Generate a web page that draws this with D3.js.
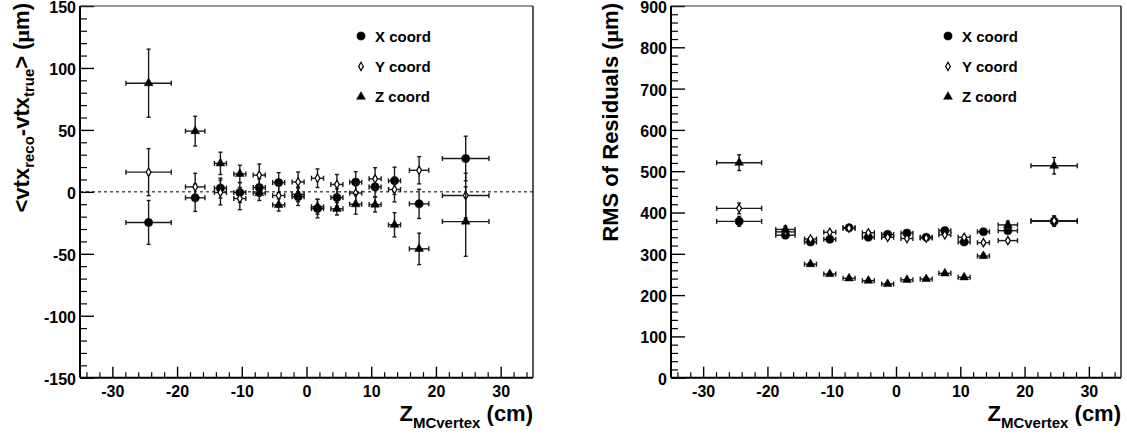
<!DOCTYPE html>
<html><head><meta charset="utf-8">
<script src="https://cdn.jsdelivr.net/npm/d3@7"></script>
<style>html,body{margin:0;padding:0;background:#fff;}svg{display:block;}</style>
</head><body>
<svg id="c" width="1127" height="434"></svg>
<script>
// ---- data ----
const zCenters = [-24.4, -17.2, -13.3, -10.3, -7.3, -4.3, -1.3, 1.7, 4.7, 7.6, 10.6, 13.6, 17.4, 24.6];
const zHalf    = [3.5, 1.5, 0.93, 0.93, 0.93, 0.93, 0.93, 0.93, 0.93, 0.93, 0.93, 0.93, 1.5, 3.6];

const meanX    = [-24.7, -4.8, 3, -0.5, 3.5, 7.5, -4, -13.5, -4.6, 7.8, 4, 8.9, -9.7, 26.9];
const meanXErr = [17.7, 11, 8, 8, 7, 8, 7, 7.5, 7, 8.5, 8, 11, 11.8, 18];
const meanY    = [15.9, 4, -0.5, -5.4, 13.5, -3, 8, 11, 6, -1, 10.5, 1.9, 17.4, -3];
const meanYErr = [19, 11, 10, 9, 9, 9, 8, 7.5, 8, 9, 9, 10, 11, 18];
const meanZ    = [87.7, 49, 23, 14.5, -1, -10.5, -2, -12, -13.7, -10, -10.3, -26.6, -46, -24];
const meanZErr = [27.5, 12, 9, 7, 6, 5, 6, 6, 5, 8, 6, 9.8, 12.7, 28];

const rmsX    = [378.5, 345, 328.6, 335, 363, 340, 347, 350, 340, 356, 328.6, 353.5, 356, 378.6];
const rmsXErr = [12, 5, 4, 4, 4, 4, 4, 4, 4, 4, 4, 4, 6, 12];
const rmsY    = [410, 353, 336, 352, 362, 351, 340, 337, 338, 346, 340, 327, 332, 380];
const rmsYErr = [13, 5, 4, 4, 4, 4, 4, 4, 4, 4, 4, 4, 5, 12];
const rmsZ    = [520.6, 359, 275, 251, 240.6, 235, 227, 237, 239, 252.7, 243, 294.7, 370, 513.3];
const rmsZErr = [19, 8, 4, 4, 3, 3, 3, 3, 3, 4, 4, 5, 9, 20];

const seriesNames = ["X coord", "Y coord", "Z coord"];
const xTicks = [-30, -20, -10, 0, 10, 20, 30];
const leftYTicks = [-150, -100, -50, 0, 50, 100, 150];
const rightYTicks = [0, 100, 200, 300, 400, 500, 600, 700, 800, 900];

// ---- drawing ----
const FONT = "'Liberation Sans', Arial, Helvetica, sans-serif";
const svg = d3.select("#c");
const fmt = d => String(d);

function drawPanel(o) {
  const g = svg.append("g");
  const x = d3.scaleLinear().domain([-35, 35]).range([o.x0, o.x1]);
  const y = d3.scaleLinear().domain(o.yDomain).range([o.y1, o.y0]);

  // minor ticks
  const xMinor = d3.range(-34, 35, 2).filter(v => v % 10 !== 0);
  g.append("g").attr("transform", `translate(0,${o.y1})`)
    .call(d3.axisBottom(x).tickValues(xMinor).tickSize(-5.5).tickFormat(""))
    .call(a => a.select(".domain").remove())
    .selectAll("line").attr("stroke", "#000").attr("stroke-width", 1.2);
  const yMinor = d3.range(o.yDomain[0], o.yDomain[1] + 0.001, o.yMinor).filter(v => Math.abs(v % o.yMajor) > 1e-6);
  g.append("g").attr("transform", `translate(${o.x0},0)`)
    .call(d3.axisLeft(y).tickValues(yMinor).tickSize(-7).tickFormat(""))
    .call(a => a.select(".domain").remove())
    .selectAll("line").attr("stroke", "#000").attr("stroke-width", 1.2);

  // major ticks + labels
  const ax = g.append("g").attr("transform", `translate(0,${o.y1})`)
    .call(d3.axisBottom(x).tickValues(xTicks).tickSize(-11).tickPadding(8).tickFormat(fmt));
  ax.select(".domain").remove();
  ax.selectAll("line").attr("stroke", "#000").attr("stroke-width", 1.4);
  ax.selectAll("text").attr("font-family", FONT).attr("font-weight", "bold").attr("font-size", 16).attr("fill", "#000");

  const ay = g.append("g").attr("transform", `translate(${o.x0},0)`)
    .call(d3.axisLeft(y).tickValues(o.yTicks).tickSize(-14).tickPadding(4).tickFormat(fmt));
  ay.select(".domain").remove();
  ay.selectAll("line").attr("stroke", "#000").attr("stroke-width", 1.4);
  ay.selectAll("text").attr("font-family", FONT).attr("font-weight", "bold").attr("font-size", 16)
    .attr("fill", "#000").attr("dy", "0.4em");

  // frame
  g.append("line").attr("x1", o.x0).attr("x2", o.x1).attr("y1", o.y0).attr("y2", o.y0).attr("stroke", "#333").attr("stroke-width", 1.2);
  g.append("line").attr("x1", o.x1).attr("x2", o.x1).attr("y1", o.y0).attr("y2", o.y1).attr("stroke", "#222").attr("stroke-width", 1.5);
  g.append("line").attr("x1", o.x0).attr("x2", o.x0).attr("y1", o.y0).attr("y2", o.y1).attr("stroke", "#000").attr("stroke-width", 2);
  g.append("line").attr("x1", o.x0).attr("x2", o.x1).attr("y1", o.y1).attr("y2", o.y1).attr("stroke", "#000").attr("stroke-width", 2);

  if (o.zeroLine) {
    g.append("line").attr("x1", o.x0).attr("x2", o.x1).attr("y1", y(0)).attr("y2", y(0))
      .attr("stroke", "#000").attr("stroke-width", 1).attr("stroke-dasharray", "3,3");
  }

  const symbols = [
    d3.symbol().type(d3.symbolCircle).size(52),
    d3.symbol().type(d3.symbolDiamond).size(20),
    d3.symbol().type(d3.symbolTriangle).size(34)
  ];
  const fills = ["#000", "#fff", "#000"];

  o.series.forEach((s, si) => {
    const pts = zCenters.map((zc, i) => ({ x: zc, hx: zHalf[i], v: s.vals[i], e: s.errs[i] }));
    const eg = g.append("g").attr("stroke", "#1a1a1a").attr("stroke-width", 1.4).attr("fill", "none");
    pts.forEach(p => {
      const cx = x(p.x), cy = y(p.v);
      const xa = x(p.x - p.hx), xb = x(p.x + p.hx);
      const ya = y(p.v - p.e), yb = y(p.v + p.e);
      eg.append("line").attr("x1", xa).attr("x2", xb).attr("y1", cy).attr("y2", cy);
      eg.append("line").attr("x1", xa).attr("x2", xa).attr("y1", cy - 2.5).attr("y2", cy + 2.5);
      eg.append("line").attr("x1", xb).attr("x2", xb).attr("y1", cy - 2.5).attr("y2", cy + 2.5);
      eg.append("line").attr("x1", cx).attr("x2", cx).attr("y1", ya).attr("y2", yb);
      eg.append("line").attr("x1", cx - 2).attr("x2", cx + 2).attr("y1", ya).attr("y2", ya);
      eg.append("line").attr("x1", cx - 2).attr("x2", cx + 2).attr("y1", yb).attr("y2", yb);
    });
    g.append("g").selectAll("path").data(pts).join("path")
      .attr("d", symbols[si])
      .attr("transform", p => `translate(${x(p.x)},${y(p.v)})`)
      .attr("fill", fills[si]).attr("stroke", "#000").attr("stroke-width", si === 1 ? 1.2 : 0.5);
  });

  // legend
  const lg = g.append("g");
  seriesNames.forEach((n, i) => {
    const ly = 36 + i * 30.4;
    lg.append("path").attr("d", symbols[i]).attr("transform", `translate(${o.legendX},${ly})`)
      .attr("fill", fills[i]).attr("stroke", "#000").attr("stroke-width", i === 1 ? 1.2 : 0.5);
    lg.append("text").attr("x", o.legendX + 14).attr("y", ly + 5.5)
      .attr("font-family", FONT).attr("font-weight", "bold").attr("font-size", 15).text(n);
  });

  // x title
  const xt = g.append("text").attr("x", o.x1).attr("y", 421).attr("text-anchor", "end")
    .attr("font-family", FONT).attr("font-weight", "bold").attr("font-size", 22);
  xt.append("tspan").text("Z");
  xt.append("tspan").attr("font-size", 15).attr("dy", 6.5).text("MCvertex");
  xt.append("tspan").attr("dy", -6.5).text(" (cm)");

  // y title
  const yt = g.append("text").attr("transform", `translate(${o.ytX},3) rotate(-90)`).attr("text-anchor", "end")
    .attr("font-family", FONT).attr("font-weight", "bold").attr("font-size", 22);
  o.yTitle(yt);
}

drawPanel({
  x0: 80, x1: 533, y0: 6, y1: 377.7,
  yDomain: [-150, 150], yTicks: leftYTicks, yMajor: 50, yMinor: 10,
  zeroLine: true, legendX: 361, ytX: 29,
  series: [{ vals: meanX, errs: meanXErr }, { vals: meanY, errs: meanYErr }, { vals: meanZ, errs: meanZErr }],
  yTitle: t => {
    t.append("tspan").text("<vtx");
    t.append("tspan").attr("font-size", 15).attr("dy", 5).text("reco");
    t.append("tspan").attr("dy", -5).text("-vtx");
    t.append("tspan").attr("font-size", 15).attr("dy", 5).text("true");
    t.append("tspan").attr("dy", -5).text("> (");
    t.append("tspan").attr("font-family", "'Liberation Serif', serif").text("μ");
    t.append("tspan").text("m)");
  }
});

drawPanel({
  x0: 671, x1: 1121, y0: 6, y1: 377.7,
  yDomain: [0, 900], yTicks: rightYTicks, yMajor: 100, yMinor: 20,
  zeroLine: false, legendX: 948, ytX: 618,
  series: [{ vals: rmsX, errs: rmsXErr }, { vals: rmsY, errs: rmsYErr }, { vals: rmsZ, errs: rmsZErr }],
  yTitle: t => {
    t.append("tspan").text("RMS of Residuals (");
    t.append("tspan").attr("font-family", "'Liberation Serif', serif").text("μ");
    t.append("tspan").text("m)");
  }
});
</script>
</body></html>
